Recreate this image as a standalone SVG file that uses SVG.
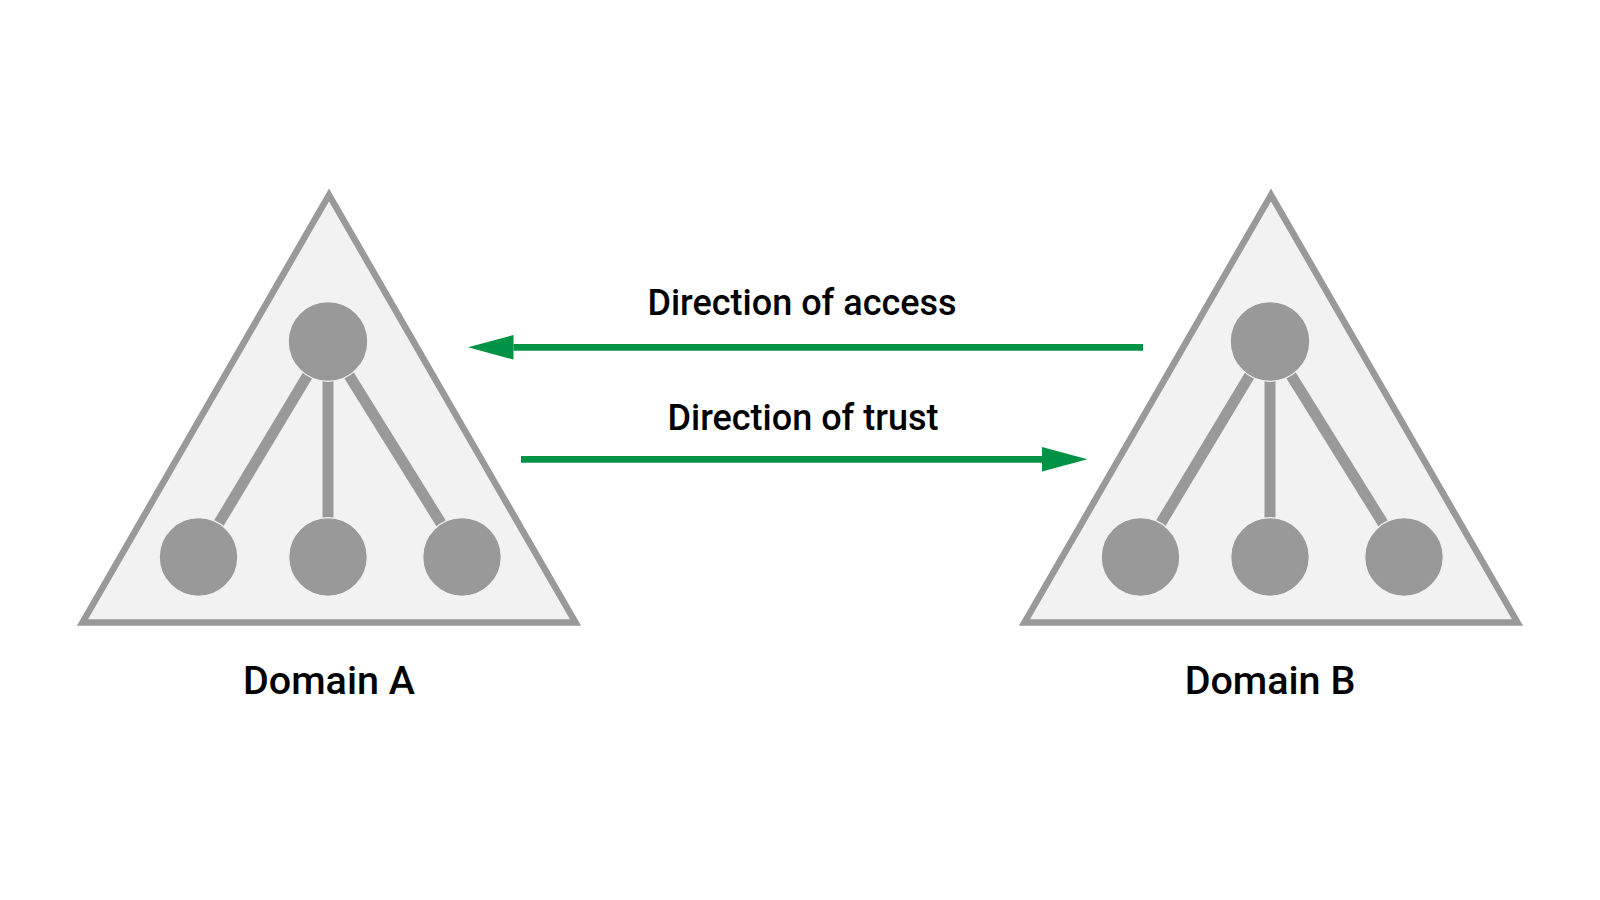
<svg xmlns="http://www.w3.org/2000/svg" width="1600" height="900" viewBox="0 0 1600 900">
  <style>
    .tri { fill: #f2f2f2; stroke: #999999; stroke-width: 6.5; stroke-linejoin: miter; }
    .edge { stroke: #999999; stroke-width: 11; fill: none; }
    .dot { fill: #999999; stroke: #f2f2f2; stroke-width: 1.2; }
    .label { font-family: Roboto, "Liberation Sans", sans-serif; font-weight: 500; fill: #000000; text-anchor: middle; }
    .conn { stroke: #009245; stroke-width: 6.7; fill: none; }
  </style>
  <defs>
    <marker id="head" markerUnits="userSpaceOnUse" markerWidth="46" markerHeight="25" refX="0" refY="12.3" orient="auto" viewBox="0 0 46 24.6">
      <path d="M0,0 L45.5,12.3 L0,24.6 Z" fill="#009245"/>
    </marker>
    <g id="tree">
      <polygon class="tri" points="329,195 82.5,622.5 575.5,622.5"/>
      <line class="edge" x1="328" y1="341.5" x2="198.5" y2="557"/>
      <line class="edge" x1="328" y1="341.5" x2="328" y2="557"/>
      <line class="edge" x1="328" y1="341.5" x2="462" y2="557"/>
      <circle class="dot" cx="328" cy="341.5" r="39.8"/>
      <circle class="dot" cx="198.5" cy="557" r="39.3"/>
      <circle class="dot" cx="328" cy="557" r="39.3"/>
      <circle class="dot" cx="462" cy="557" r="39.3"/>
    </g>
  </defs>
  <rect width="1600" height="900" fill="#ffffff"/>
  <g id="domain-a">
    <use href="#tree"/>
    <text class="label" x="329" y="694" font-size="39.5">Domain A</text>
  </g>
  <g id="domain-b">
    <use href="#tree" transform="translate(942,0)"/>
    <text class="label" x="1270" y="694" font-size="39.5">Domain B</text>
  </g>
  <g id="connectors">
    <line class="conn" x1="1143" y1="347.3" x2="513.5" y2="347.3" marker-end="url(#head)"/>
    <text class="label" x="802" y="315" font-size="36">Direction of access</text>
    <line class="conn" x1="521" y1="459.3" x2="1042" y2="459.3" marker-end="url(#head)"/>
    <text class="label" x="803" y="430" font-size="36">Direction of trust</text>
  </g>
</svg>
